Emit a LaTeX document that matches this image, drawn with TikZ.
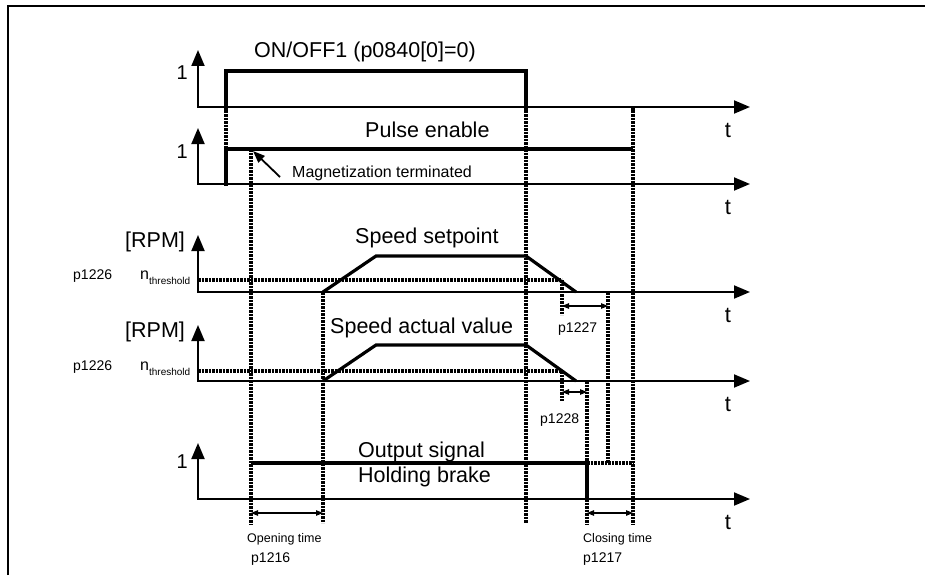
\documentclass[tikz,border=0pt]{standalone}
\usepackage{fontspec}
\setmainfont{Liberation Sans}
\usetikzlibrary{arrows.meta}
\begin{document}
\begin{tikzpicture}[x=1pt,y=-1pt,
  frame/.style={line width=1.8pt},
  axis/.style={line width=1.9pt,{Triangle[length=16pt,width=13pt]}-{Triangle[length=16pt,width=13pt]}},
  sig/.style={line width=3.2pt,line join=miter},
  dots/.style={line width=3.6pt,dash pattern=on 2.6pt off 0.9pt},
  dim/.style={line width=1.1pt,{Triangle[length=7pt,width=5.5pt]}-{Triangle[length=7pt,width=5.5pt]}},
  pointer/.style={line width=1.8pt,-{Triangle[length=12pt,width=9pt]}},
  txt/.style={inner sep=0pt,anchor=base west},
  big/.style={txt,font=\fontsize{21.5}{24}\selectfont},
  one/.style={inner sep=0pt,anchor=base east,font=\fontsize{20}{22}\selectfont},
  tl/.style={inner sep=0pt,anchor=base,font=\fontsize{22}{24}\selectfont},
  mid/.style={txt,font=\fontsize{16}{18}\selectfont},
  par/.style={txt,font=\fontsize{14}{16}\selectfont},
  sm/.style={txt,font=\fontsize{12.5}{14}\selectfont},
]
\useasboundingbox (0,0) rectangle (925,575);
% frame
\coordinate (fa) at (8,575); \coordinate (fb) at (8,6); \coordinate (fc) at (925,6);
\draw[frame] (fa) -- (fb) -- (fc);

% axes
\foreach \n/\b/\t in {1/107/50, 2/184/128, 3/292/235, 4/381/325, 5/499/443} {
  \coordinate (o\n) at (198,\b);
  \coordinate (v\n) at (198,\t);
  \coordinate (h\n) at (750,\b);
  \draw[axis] (v\n) -- (o\n) -- (h\n);
  \node[tl] (t\n) at (728,\b+30) {t};
}
\node[one] (one1) at (188,80) {1};
\node[one] (one2) at (188,158) {1};
\node[one] (one5) at (188,468) {1};

% ON/OFF1 signal
\coordinate (a1) at (226,107); \coordinate (a2) at (226,71);
\coordinate (a3) at (526,71); \coordinate (a4) at (526,107);
\draw[sig] (a1) -- (a2) -- (a3) -- (a4);
\node[big] (ttl1) at (254,58) {ON/OFF1 (p0840[0]=0)};

% Pulse enable
\coordinate (b1) at (226,184); \coordinate (b2) at (226,149); \coordinate (b3) at (633,149);
\draw[sig] (b1) -- (b2) -- (b3);
\node[big] (ttl2) at (365,137) {Pulse enable};
\node[mid] (mag) at (292,177) {Magnetization terminated};
\coordinate (magtail) at (280,177); \coordinate (magtip) at (253,151);
\draw[pointer] (magtail) -- (magtip);

% Speed setpoint
\coordinate (c1) at (323,292); \coordinate (c2) at (376,256);
\coordinate (c3) at (526,256); \coordinate (c4) at (576,292);
\draw[sig] (c1) -- (c2) -- (c3) -- (c4);
\node[big] (ttl3) at (355,243) {Speed setpoint};
\coordinate (th3a) at (198,280); \coordinate (th3b) at (562,280);
\draw[dots] (th3a) -- (th3b);
\node[big] (rpm3) at (125,247.5) {[RPM]};
\node[par] (p3) at (73,279.5) {p1226};
\node[txt] (n3) at (140,279.5) {\fontsize{16}{18}\selectfont n\fontsize{10}{12}\selectfont\raisebox{-4.5pt}{threshold}};

% Speed actual value
\coordinate (d1) at (323,381); \coordinate (d2) at (376,345);
\coordinate (d3) at (526,345); \coordinate (d4) at (576,381);
\draw[sig] (d1) -- (d2) -- (d3) -- (d4);
\node[big] (ttl4) at (330,333) {Speed actual value};
\coordinate (th4a) at (198,371); \coordinate (th4b) at (562,371);
\draw[dots] (th4a) -- (th4b);
\node[big] (rpm4) at (125,337.5) {[RPM]};
\node[par] (p4) at (73,370.5) {p1226};
\node[txt] (n4) at (140,370.5) {\fontsize{16}{18}\selectfont n\fontsize{10}{12}\selectfont\raisebox{-4.5pt}{threshold}};

% Holding brake
\coordinate (e1) at (251,463); \coordinate (e2) at (587,463);
\coordinate (e3) at (587,499); \coordinate (e4) at (633,463);
\draw[sig] (e1) -- (e2) -- (e3);
\draw[dots] (e2) -- (e4);
\node[big] (ttl5a) at (358,457) {Output signal};
\node[big] (ttl5b) at (358,482) {Holding brake};

% dotted verticals
\coordinate (g1a) at (226,107); \coordinate (g1b) at (226,186);
\coordinate (g2a) at (251,149); \coordinate (g2b) at (251,525);
\coordinate (g3a) at (323,292); \coordinate (g3b) at (323,523);
\coordinate (g4a) at (526,107); \coordinate (g4b) at (526,523);
\coordinate (g5a) at (562,280); \coordinate (g5b) at (562,315);
\coordinate (g6a) at (562,371); \coordinate (g6b) at (562,401);
\coordinate (g7a) at (587,381); \coordinate (g7b) at (587,463);
\coordinate (g7c) at (587,499); \coordinate (g7d) at (587,525);
\coordinate (g8a) at (608,292); \coordinate (g8b) at (608,463);
\coordinate (g9a) at (633,107); \coordinate (g9b) at (633,525);
\draw[dots] (g1a) -- (g1b);
\draw[dots] (g2a) -- (g2b);
\draw[dots] (g3a) -- (g3b);
\draw[dots] (g4a) -- (g4b);
\draw[dots] (g5a) -- (g5b);
\draw[dots] (g6a) -- (g6b);
\draw[dots] (g7a) -- (g7b);
\draw[dots] (g7c) -- (g7d);
\draw[dots] (g8a) -- (g8b);
\draw[dots] (g9a) -- (g9b);

% dimension arrows
\coordinate (k1a) at (562,306); \coordinate (k1b) at (608,306);
\draw[dim] (k1a) -- (k1b);
\node[par] (p1227) at (558,332) {p1227};
\coordinate (k2a) at (562,392); \coordinate (k2b) at (587,392);
\draw[dim] (k2a) -- (k2b);
\node[par] (p1228) at (540,423) {p1228};
\coordinate (k3a) at (251,513); \coordinate (k3b) at (323,513);
\draw[dim] (k3a) -- (k3b);
\node[sm] (open) at (247,542) {Opening time};
\node[par] (p1216) at (251,562) {p1216};
\coordinate (k4a) at (587,513); \coordinate (k4b) at (633,513);
\draw[dim] (k4a) -- (k4b);
\node[sm] (close) at (583,542) {Closing time};
\node[par] (p1217) at (583,562) {p1217};
\end{tikzpicture}
\end{document}
